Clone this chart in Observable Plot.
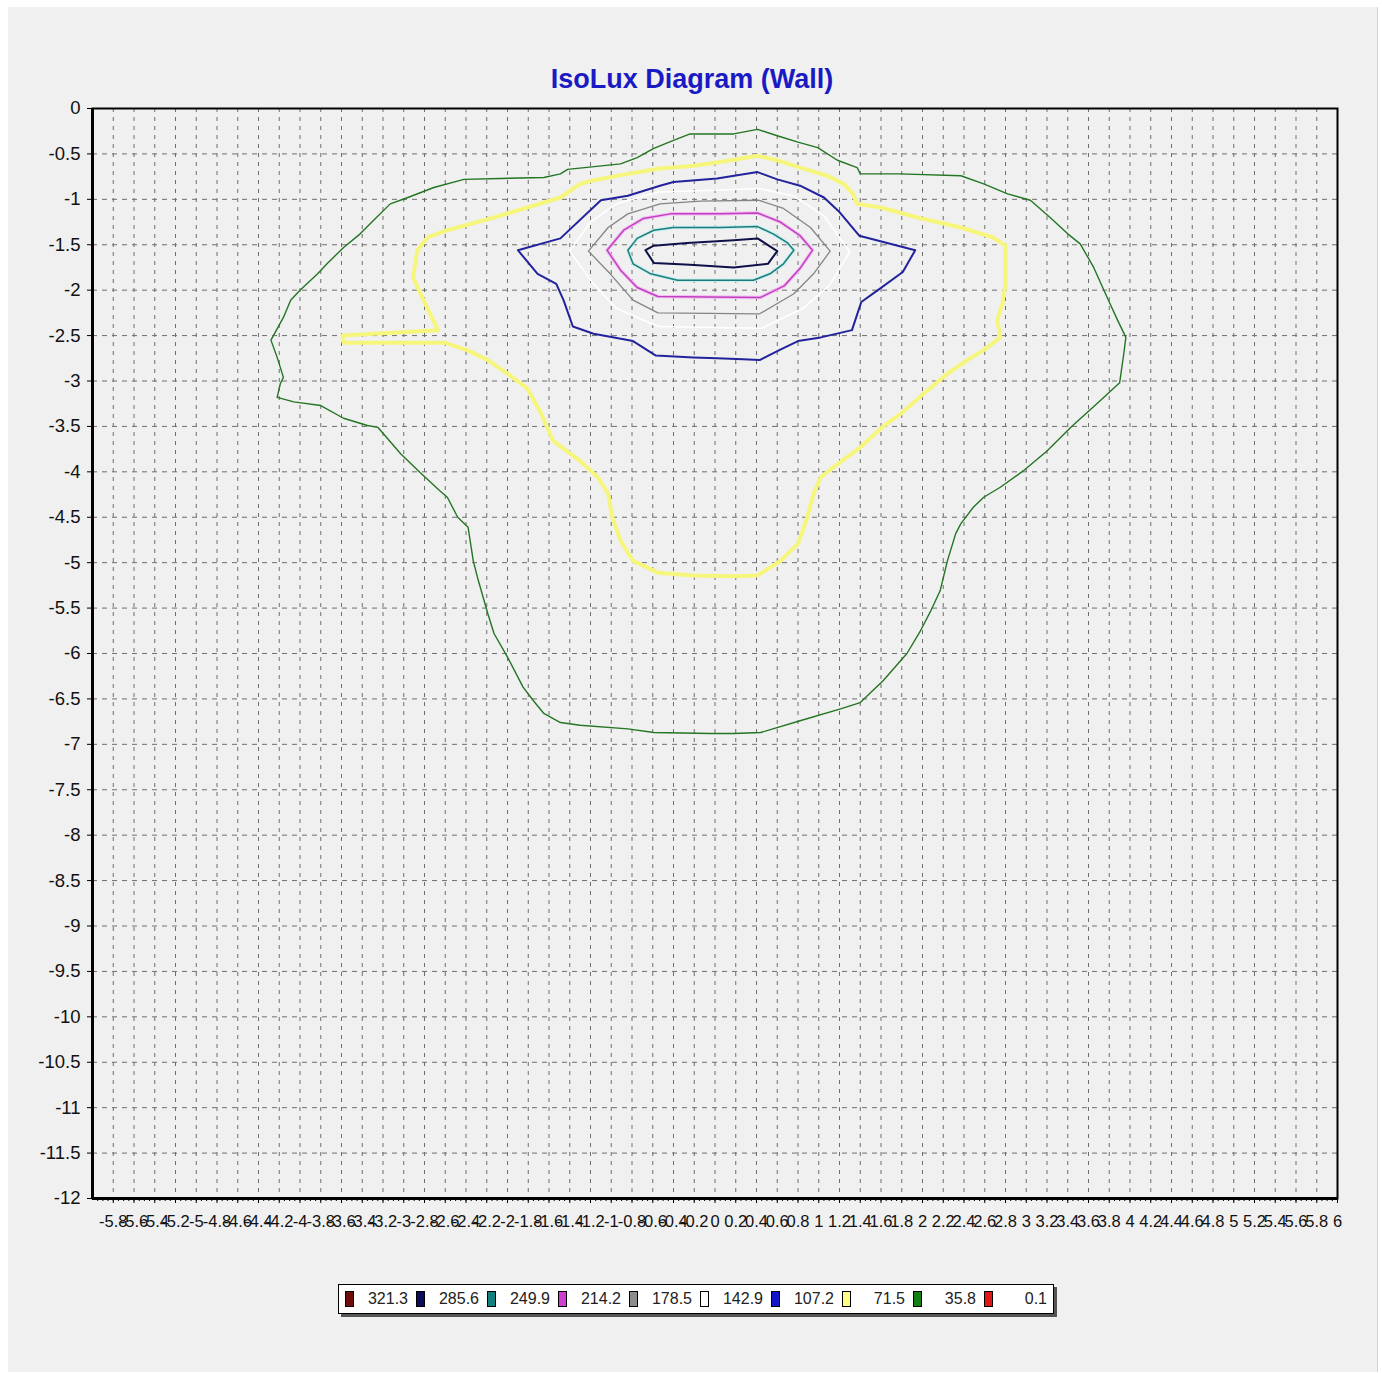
<!DOCTYPE html>
<html>
<head>
<meta charset="utf-8">
<script src="https://cdn.jsdelivr.net/npm/d3@7"></script>
<script src="https://cdn.jsdelivr.net/npm/@observablehq/plot@0.6"></script>
<style>
  html, body { margin: 0; padding: 0; background: #ffffff; }
  #page { position: relative; width: 1382px; height: 1374px; overflow: hidden; font-family: "Liberation Sans", Arial, sans-serif; }
  #panel { position: absolute; left: 8px; top: 7px; width: 1369px; height: 1365px; background: #f0f0f0; border-right: 1px solid #d4d4d4; }
  #title { position: absolute; left: 0; width: 1384px; top: 64px; text-align: center; font-weight: bold; font-size: 27px; color: #1a1ac4; }
  #chart { position: absolute; left: 0; top: 0; }
  #legend { position: absolute; left: 338px; top: 1284px; width: 708px; height: 28px; background: #ffffff; border: 1px solid #000; box-shadow: 3px 3px 0 #555; display: flex; align-items: center; padding-left: 6px; box-sizing: content-box; }
  .item { display: flex; align-items: center; width: 71px; flex: none; }
  .sw { width: 7px; height: 14px; border: 1px solid #000; flex: none; }
  .lab { width: 54px; text-align: right; font-size: 16px; color: #222; }
</style>
</head>
<body>
<div id="page">
  <div id="panel"></div>
  <div id="chart"></div>
  <div id="title">IsoLux Diagram (Wall)</div>
  <div id="legend"></div>
</div>
<script>
// ---- axis ticks ----
const xTicks = [-5.8,-5.6,-5.4,-5.2,-5,-4.8,-4.6,-4.4,-4.2,-4,-3.8,-3.6,-3.4,-3.2,-3,-2.8,-2.6,-2.4,-2.2,-2,-1.8,-1.6,-1.4,-1.2,-1,-0.8,-0.6,-0.4,-0.2,0,0.2,0.4,0.6,0.8,1,1.2,1.4,1.6,1.8,2,2.2,2.4,2.6,2.8,3,3.2,3.4,3.6,3.8,4,4.2,4.4,4.6,4.8,5,5.2,5.4,5.6,5.8,6];
const yTicks = [0,-0.5,-1,-1.5,-2,-2.5,-3,-3.5,-4,-4.5,-5,-5.5,-6,-6.5,-7,-7.5,-8,-8.5,-9,-9.5,-10,-10.5,-11,-11.5,-12];

// ---- legend ----
const legendLevels = ["321.3","285.6","249.9","214.2","178.5","142.9","107.2","71.5","35.8","0.1"];
const legendColors = ["#6e0c0c","#0c0c5a","#138080","#d040d0","#8c8c8c","#ffffff","#1414c8","#ffff88","#128012","#e01818"];

// ---- isolux contours [x, y] ----
const iso35_8 = [[0.41,-0.23],[0.60,-0.30],[0.80,-0.37],[0.99,-0.43],[1.18,-0.57],[1.37,-0.65],[1.40,-0.72],[1.78,-0.72],[2.37,-0.74],[2.59,-0.83],[2.82,-0.94],[3.04,-1.01],[3.23,-1.20],[3.40,-1.38],[3.52,-1.49],[3.65,-1.75],[3.78,-2.08],[3.88,-2.33],[3.96,-2.52],[3.94,-2.70],[3.90,-3.02],[3.72,-3.21],[3.43,-3.51],[3.20,-3.77],[2.97,-3.99],[2.75,-4.17],[2.59,-4.28],[2.49,-4.39],[2.37,-4.57],[2.32,-4.68],[2.24,-4.98],[2.17,-5.31],[2.08,-5.53],[1.98,-5.75],[1.85,-6.00],[1.62,-6.30],[1.40,-6.54],[1.21,-6.61],[0.82,-6.74],[0.44,-6.87],[0.18,-6.88],[-0.04,-6.88],[-0.59,-6.87],[-0.84,-6.83],[-1.30,-6.79],[-1.49,-6.76],[-1.65,-6.66],[-1.75,-6.52],[-1.85,-6.37],[-2.00,-6.04],[-2.13,-5.78],[-2.19,-5.56],[-2.29,-5.16],[-2.33,-4.98],[-2.38,-4.61],[-2.48,-4.50],[-2.58,-4.28],[-2.65,-4.21],[-2.84,-4.01],[-3.03,-3.80],[-3.25,-3.51],[-3.35,-3.49],[-3.58,-3.41],[-3.80,-3.27],[-4.06,-3.23],[-4.22,-3.18],[-4.19,-3.03],[-4.16,-2.96],[-4.22,-2.74],[-4.28,-2.55],[-4.16,-2.30],[-4.09,-2.11],[-4.00,-2.00],[-3.83,-1.82],[-3.74,-1.71],[-3.58,-1.53],[-3.42,-1.38],[-3.29,-1.23],[-3.13,-1.05],[-2.96,-0.98],[-2.71,-0.87],[-2.42,-0.78],[-2.07,-0.77],[-1.65,-0.76],[-1.49,-0.72],[-1.42,-0.67],[-0.91,-0.61],[-0.75,-0.54],[-0.59,-0.44],[-0.40,-0.35],[-0.24,-0.28],[0.18,-0.28],[0.41,-0.23]];

const iso71_5 = [[0.41,-0.52],[0.60,-0.57],[0.82,-0.65],[1.08,-0.74],[1.24,-0.83],[1.33,-0.94],[1.37,-1.05],[1.60,-1.09],[1.95,-1.20],[2.37,-1.31],[2.68,-1.42],[2.80,-1.51],[2.80,-1.93],[2.77,-2.15],[2.72,-2.33],[2.75,-2.52],[2.59,-2.66],[2.43,-2.77],[2.24,-2.92],[2.01,-3.14],[1.79,-3.36],[1.62,-3.50],[1.40,-3.73],[1.14,-3.95],[1.02,-4.06],[0.95,-4.24],[0.89,-4.50],[0.80,-4.79],[0.63,-4.98],[0.41,-5.14],[0.18,-5.15],[-0.21,-5.14],[-0.55,-5.11],[-0.79,-4.98],[-0.91,-4.76],[-0.99,-4.50],[-1.03,-4.24],[-1.13,-4.06],[-1.30,-3.88],[-1.56,-3.66],[-1.68,-3.35],[-1.81,-3.08],[-2.00,-2.92],[-2.19,-2.77],[-2.39,-2.66],[-2.60,-2.58],[-3.58,-2.58],[-3.59,-2.50],[-2.67,-2.44],[-2.81,-2.11],[-2.91,-1.86],[-2.87,-1.56],[-2.77,-1.42],[-2.58,-1.34],[-2.13,-1.20],[-1.81,-1.09],[-1.49,-0.98],[-1.30,-0.83],[-1.17,-0.79],[-0.84,-0.72],[-0.53,-0.66],[-0.21,-0.63],[0.05,-0.59],[0.41,-0.52]];

const iso107_2 = [[0.41,-0.70],[0.60,-0.78],[0.82,-0.85],[1.05,-0.98],[1.20,-1.14],[1.39,-1.40],[1.93,-1.56],[1.81,-1.80],[1.57,-2.00],[1.41,-2.13],[1.32,-2.44],[1.02,-2.52],[0.80,-2.56],[0.62,-2.66],[0.43,-2.77],[0.27,-2.76],[0.02,-2.75],[-0.21,-2.74],[-0.57,-2.72],[-0.79,-2.56],[-1.17,-2.48],[-1.37,-2.40],[-1.46,-2.11],[-1.53,-1.93],[-1.71,-1.82],[-1.90,-1.56],[-1.49,-1.43],[-1.10,-1.01],[-0.84,-0.96],[-0.53,-0.85],[-0.40,-0.81],[0.02,-0.77],[0.41,-0.70]];

const iso142_9 = [[-1.40,-1.57],[-1.20,-1.25],[-0.95,-1.05],[-0.55,-0.92],[0.00,-0.90],[0.42,-0.88],[0.75,-0.96],[1.05,-1.18],[1.30,-1.58],[1.10,-1.95],[0.85,-2.20],[0.45,-2.42],[-0.55,-2.40],[-0.95,-2.20],[-1.18,-1.92],[-1.40,-1.57]];

const iso178_5 = [[-1.22,-1.57],[-1.03,-1.31],[-0.84,-1.16],[-0.53,-1.05],[-0.14,-1.02],[0.42,-1.01],[0.66,-1.10],[0.92,-1.31],[1.11,-1.57],[0.95,-1.82],[0.76,-2.04],[0.43,-2.26],[-0.55,-2.25],[-0.79,-2.11],[-1.01,-1.82],[-1.22,-1.57]];

const iso214_2 = [[-1.04,-1.56],[-0.88,-1.34],[-0.69,-1.21],[-0.43,-1.16],[0.05,-1.16],[0.41,-1.15],[0.63,-1.25],[0.82,-1.40],[0.94,-1.56],[0.82,-1.76],[0.67,-1.95],[0.44,-2.08],[-0.55,-2.07],[-0.75,-1.97],[-0.91,-1.78],[-1.04,-1.56]];

const iso249_9 = [[-0.84,-1.56],[-0.75,-1.43],[-0.59,-1.34],[-0.40,-1.31],[0.05,-1.31],[0.41,-1.30],[0.56,-1.38],[0.70,-1.48],[0.76,-1.56],[0.66,-1.71],[0.53,-1.82],[0.37,-1.89],[-0.36,-1.89],[-0.62,-1.82],[-0.79,-1.71],[-0.84,-1.56]];

const iso285_6 = [[-0.67,-1.56],[-0.59,-1.51],[-0.27,-1.48],[0.18,-1.45],[0.41,-1.43],[0.60,-1.57],[0.51,-1.71],[0.18,-1.75],[-0.24,-1.72],[-0.59,-1.70],[-0.67,-1.56]];

// ---- build chart ----
const xMinor = d3.range(-119, 120).map(i => i * 0.05);
const line = (data, stroke, strokeWidth, extra = {}) =>
  Plot.line(data, {x: d => d[0], y: d => d[1], stroke, strokeWidth, strokeLinejoin: "round", ...extra});

const chart = Plot.plot({
  width: 1382,
  height: 1260,
  marginLeft: 92,
  marginRight: 45,
  marginTop: 108,
  marginBottom: 62,
  style: {background: "transparent", fontFamily: "'Liberation Sans', Arial, sans-serif", color: "#111", overflow: "visible"},
  x: {domain: [-6, 6]},
  y: {domain: [-12, 0]},
  marks: [
    Plot.ruleX(xTicks.filter(v => v < 6), {stroke: "#6e6e6e", strokeWidth: 1, strokeDasharray: "4,5"}),
    Plot.ruleY(yTicks.filter(v => v < 0 && v > -12), {stroke: "#6e6e6e", strokeWidth: 1, strokeDasharray: "5,5"}),
    line(iso35_8, "#237523", 1.4),
    line(iso71_5, "#f6f67c", 4),
    line(iso107_2, "#22229c", 2),
    line(iso142_9, "#ffffff", 1.6),
    line(iso178_5, "#858585", 1.3),
    line(iso214_2, "#f2bcf2", 3.5),
    line(iso214_2, "#c040c0", 1.5),
    line(iso249_9, "#c6eeee", 3.5),
    line(iso249_9, "#1c7c7c", 1.5),
    line(iso285_6, "#101048", 2),
    Plot.axisY(yTicks, {tickSize: 5, tickPadding: 7, fontSize: 18.5, tickFormat: d => String(d), stroke: "#000", fill: "#111"}),
    Plot.axisX(xMinor, {tickSize: 3, text: null, stroke: "#000"}),
    Plot.axisX(xTicks, {tickSize: 5, tickPadding: 12, fontSize: 16.5, tickFormat: d => String(d), stroke: "#000", fill: "#111"}),
    Plot.frame({stroke: "#000", strokeWidth: 2}),
    Plot.ruleX([-6], {stroke: "#000", strokeWidth: 3}),
    Plot.ruleY([-12], {stroke: "#000", strokeWidth: 3})
  ]
});
document.getElementById("chart").appendChild(chart);

// ---- legend ----
const leg = document.getElementById("legend");
legendLevels.forEach((lv, i) => {
  const it = document.createElement("div");
  it.className = "item";
  const sw = document.createElement("div");
  sw.className = "sw";
  sw.style.background = legendColors[i];
  const lab = document.createElement("div");
  lab.className = "lab";
  lab.textContent = lv;
  it.appendChild(sw);
  it.appendChild(lab);
  leg.appendChild(it);
});
</script>
</body>
</html>
